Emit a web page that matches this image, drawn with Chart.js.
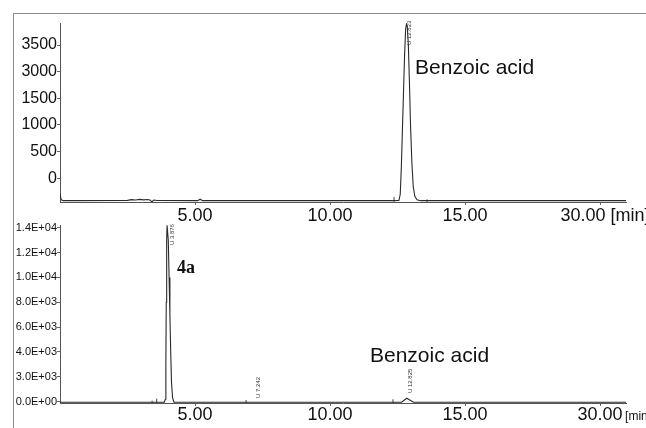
<!DOCTYPE html>
<html><head><meta charset="utf-8">
<script src="https://cdn.jsdelivr.net/npm/chart.js@4.4.1/dist/chart.umd.min.js"></script>
<style>
html,body{margin:0;padding:0;background:#fff;}
#wrap{position:relative;width:646px;height:428px;overflow:hidden;background:#fff;}
canvas{position:absolute;left:0;}
#c1{top:0;}
#c2{top:215px;}
#frameTop{position:absolute;left:13px;top:13px;width:633px;height:0;border-top:1px solid #8a8a8a;}
#frameLeft{position:absolute;left:13px;top:13px;width:0;height:415px;border-left:1px solid #8a8a8a;}
</style></head>
<body><div id="wrap"><div id="frameTop"></div><div id="frameLeft"></div>
<canvas id="c1" width="646" height="228"></canvas>
<canvas id="c2" width="646" height="213"></canvas></div>
<script>
// ---- shared x axis (retention time, min) ----
const xMin = 0, xMax = 20.96;
const xTickValues = [5, 10, 15, 20];
const xTickLabelsTop = ['5.00', '10.00', '15.00', '  30.00 [min]'];
const xTickLabelsBottom = ['5.00', '10.00', '15.00', '30.00'];

// ---- top chromatogram (benzoic acid standard) ----
const topYMin = -445, topYMax = 2913;
const topYTickValues = [0, 500, 1000, 1500, 2000, 2500];
const topYTickLabels = ['0', '500', '1000', '1500', '3000', '3500'];
const topTimes  = [0, 0.04, 0.12, 0.5, 2.5, 2.65, 2.8, 2.95, 3.1, 3.25, 3.35, 3.4, 3.47, 3.6, 5.1, 5.19, 5.28, 12.3, 12.55, 12.6, 12.64, 12.68, 12.72, 12.76, 12.8, 12.83, 12.86, 12.9, 12.94, 12.98, 13.03, 13.08, 13.14, 13.22, 13.35, 20.96];
const topSignal = [-290, -400, -420, -420, -415, -400, -408, -395, -405, -398, -412, -445, -408, -418, -420, -392, -420, -420, -415, -300, 200, 900, 1600, 2300, 2800, 2890, 2850, 2500, 1800, 1000, 300, -150, -340, -405, -420, -420];
const topMarkerTimes = [12.37, 13.59];
const topMarkerTops  = [-350, -395];
const topPeakLabels = [{ text: 'U 12.823', t: 12.94, v: 2500 }];
const topTexts = [{ text: 'Benzoic acid', t: 13.15, v: 1957, font: '21px "Liberation Sans", Arial, sans-serif' }];

// ---- bottom chromatogram (reaction mixture) ----
const botYMin = -105, botYMax = 14217;
const botYTickValues = [0, 2000, 4000, 6000, 8000, 10000, 12000, 14000];
const botYTickLabels = ['0.0E+00', '3.0E+03', '4.0E+03', '6.0E+03', '8.0E+03', '1.0E+04', '1.2E+04', '1.4E+04'];
const botTimes  = [0, 3.86, 3.90, 3.92, 3.935, 3.95, 3.965, 3.99, 4.01, 4.04, 4.07, 4.10, 4.13, 4.17, 4.22, 12.65, 12.84, 13.09, 20.96];
const botSignal = [-40, -40, 200, 3000, 8000, 13000, 14200, 14200, 13000, 10000, 7000, 4000, 1500, 300, -40, -40, 280, -40, -40];
const botMarkerTimes = [3.41, 3.58, 6.89, 12.33];
const botMarkerTops  = [80, 240, 137, 193];
const botPeakLabels = [
  { text: 'U 3.876', t: 4.15, v: 12600 },
  { text: 'U 7.242', t: 7.33, v: 300 },
  { text: 'U 12.825', t: 12.96, v: 700 }
];
const botTexts = [
  { text: 'Benzoic acid', t: 11.48, v: 3218, font: '21px "Liberation Sans", Arial, sans-serif' },
  { text: '4a', t: 4.33, v: 10354, font: 'bold 18px "Liberation Serif", "Times New Roman", serif' }
];

Chart.defaults.font.family = '"Liberation Sans", Arial, sans-serif';

function toPoints(ts, vs) { return ts.map((t, i) => ({ x: t, y: vs[i] })); }
function markerPoints(ts, tops, base) {
  const pts = [];
  ts.forEach((t, i) => { pts.push({ x: t, y: base }); pts.push({ x: t, y: tops[i] }); pts.push({ x: t, y: null }); });
  return pts;
}

const annotate = {
  id: 'annotate',
  afterDraw(chart, args, opts) {
    const { ctx } = chart; const x = chart.scales.x, y = chart.scales.y;
    ctx.save();
    ctx.fillStyle = '#111';
    (opts.texts || []).forEach(tx => {
      ctx.font = tx.font; ctx.textAlign = 'left'; ctx.textBaseline = 'alphabetic';
      ctx.fillText(tx.text, x.getPixelForValue(tx.t), y.getPixelForValue(tx.v));
    });
    (opts.peakLabels || []).forEach(p => {
      ctx.save();
      ctx.translate(x.getPixelForValue(p.t), y.getPixelForValue(p.v));
      ctx.rotate(-Math.PI / 2);
      ctx.font = '6px "Liberation Sans", Arial, sans-serif';
      ctx.textAlign = 'left'; ctx.textBaseline = 'middle';
      ctx.fillStyle = '#333';
      ctx.fillText(p.text, 0, 0);
      ctx.restore();
    });
    if (opts.unit) {
      ctx.font = '12px "Liberation Sans", Arial, sans-serif';
      ctx.textAlign = 'left'; ctx.textBaseline = 'alphabetic';
      ctx.fillText(opts.unit.text, x.getPixelForValue(opts.unit.t) + 25, x.top + opts.unit.dy);
    }
    ctx.restore();
  }
};

function makeChart(id, cfg) {
  return new Chart(document.getElementById(id), {
    type: 'line',
    data: {
      datasets: [
        { data: toPoints(cfg.times, cfg.signal), borderColor: '#2a2a2a', borderWidth: 1.1, pointRadius: 0, tension: 0, fill: false },
        { data: markerPoints(cfg.markerTimes, cfg.markerTops, cfg.yMin), borderColor: '#444', borderWidth: 1, pointRadius: 0, tension: 0, fill: false, spanGaps: false }
      ]
    },
    options: {
      responsive: false, animation: false, events: [],
      layout: { padding: { top: cfg.padTop, left: 0, right: 20, bottom: 0 } },
      plugins: {
        legend: { display: false }, tooltip: { enabled: false },
        annotate: { texts: cfg.texts, peakLabels: cfg.peakLabels, unit: cfg.unit }
      },
      scales: {
        x: {
          type: 'linear', min: xMin, max: xMax,
          afterBuildTicks: a => { a.ticks = xTickValues.map(v => ({ value: v })); },
          afterFit: a => { a.height = cfg.xHeight; a.paddingLeft = 0; a.paddingRight = 0; },
          grid: { display: true, drawOnChartArea: false, drawTicks: true, tickLength: 3, color: '#666' },
          border: { display: true, color: '#555', width: 1 },
          ticks: { autoSkip: false, maxRotation: 0, minRotation: 0, padding: cfg.xPad, color: '#111',
                   font: { size: 18 }, callback: (v, i) => cfg.xLabels[i] }
        },
        y: {
          type: 'linear', min: cfg.yMin, max: cfg.yMax,
          afterBuildTicks: a => { a.ticks = cfg.yTicks.map(v => ({ value: v })); },
          afterFit: a => { a.width = 60; a.paddingTop = 0; a.paddingBottom = 0; },
          grid: { display: true, drawOnChartArea: false, drawTicks: true, tickLength: 3, color: '#666' },
          border: { display: true, color: '#555', width: 1 },
          ticks: { autoSkip: false, padding: 0, color: '#111', font: { size: cfg.yFont },
                   callback: (v, i) => cfg.yLabels[i] }
        }
      }
    },
    plugins: [annotate]
  });
}

makeChart('c1', {
  times: topTimes, signal: topSignal, markerTimes: topMarkerTimes, markerTops: topMarkerTops,
  yMin: topYMin, yMax: topYMax, yTicks: topYTickValues, yLabels: topYTickLabels, yFont: 16,
  xLabels: xTickLabelsTop, padTop: 23, xHeight: 26, xPad: 0,
  texts: topTexts, peakLabels: topPeakLabels, unit: null
});
makeChart('c2', {
  times: botTimes, signal: botSignal, markerTimes: botMarkerTimes, markerTops: botMarkerTops,
  yMin: botYMin, yMax: botYMax, yTicks: botYTickValues, yLabels: botYTickLabels, yFont: 11,
  xLabels: xTickLabelsBottom, padTop: 10, xHeight: 25, xPad: -2,
  texts: botTexts, peakLabels: botPeakLabels, unit: { text: '[min]', t: 20, dy: 17 }
});
</script></body></html>
